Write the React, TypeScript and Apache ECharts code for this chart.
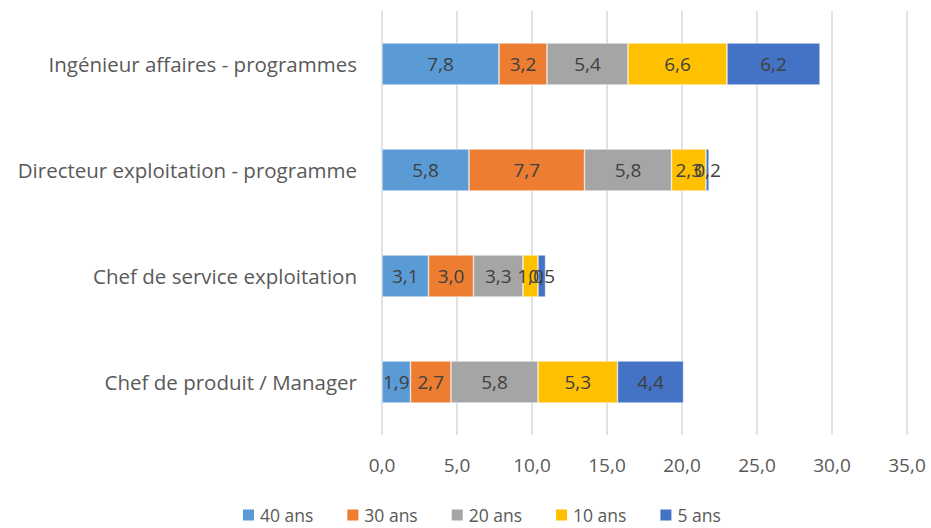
import React, { useEffect, useRef } from "react";
import * as echarts from "echarts";

const categories = [
  "Chef de produit / Manager",
  "Chef de service exploitation",
  "Directeur exploitation - programme",
  "Ingénieur affaires - programmes",
];
const seriesNames = ["40 ans", "30 ans", "20 ans", "10 ans", "5 ans"];
const s40 = [1.9, 3.1, 5.8, 7.8];
const s30 = [2.7, 3.0, 7.7, 3.2];
const s20 = [5.8, 3.3, 5.8, 5.4];
const s10 = [5.3, 1.0, 2.3, 6.6];
const s5 = [4.4, 0.5, 0.2, 6.2];
const colors = ["#5B9BD5", "#ED7D31", "#A5A5A5", "#FFC000", "#4472C4"];

const FONT = "'Open Sans', 'Noto Sans', sans-serif";

export default function App() {
  const ref = useRef<HTMLDivElement>(null);
  useEffect(() => {
    document.body.style.margin = "0";
    document.body.style.overflow = "hidden";
    if (!ref.current) return;
    const chart = echarts.init(ref.current, null, { renderer: "svg" });
    const data = [s40, s30, s20, s10, s5];
    chart.setOption({
      animation: false,
      textStyle: { fontFamily: FONT },
      grid: { left: 382, right: 24, top: 11, bottom: 93, containLabel: false },
      legend: {
        top: 501,
        left: 236,
        itemWidth: 13,
        itemHeight: 13,
        itemGap: 32,
        icon: "rect",
        textStyle: { fontSize: 17.5, color: "#595959", fontFamily: FONT, lineHeight: 18 },
        data: seriesNames,
      },
      xAxis: {
        type: "value",
        min: 0,
        max: 35,
        interval: 5,
        axisLine: { show: false },
        axisTick: { show: false },
        splitLine: { lineStyle: { color: "#D9D9D9", width: 1.5 } },
        axisLabel: {
          fontSize: 19,
          color: "#595959",
          margin: 20,
          formatter: (v: number) => v.toFixed(1).replace(".", ","),
        },
      },
      yAxis: {
        type: "category",
        data: categories,
        axisLine: { show: false },
        axisTick: { show: false },
        axisLabel: { fontSize: 20.5, color: "#595959", margin: 25 },
      },
      series: seriesNames.map((name, i) => ({
        name,
        type: "bar",
        stack: "total",
        barWidth: 42,
        data: data[i],
        itemStyle: { color: colors[i], borderColor: "#ffffff", borderWidth: 0.5 },
        label: {
          show: true,
          position: "inside",
          fontSize: 19,
          color: "#404040",
          fontFamily: FONT,
          formatter: (p: any) => p.value.toFixed(1).replace(".", ","),
        },
        labelLayout: { hideOverlap: false },
      })),
    });
    return () => chart.dispose();
  }, []);
  return <div ref={ref} style={{ width: 931, height: 528 }} />;
}
